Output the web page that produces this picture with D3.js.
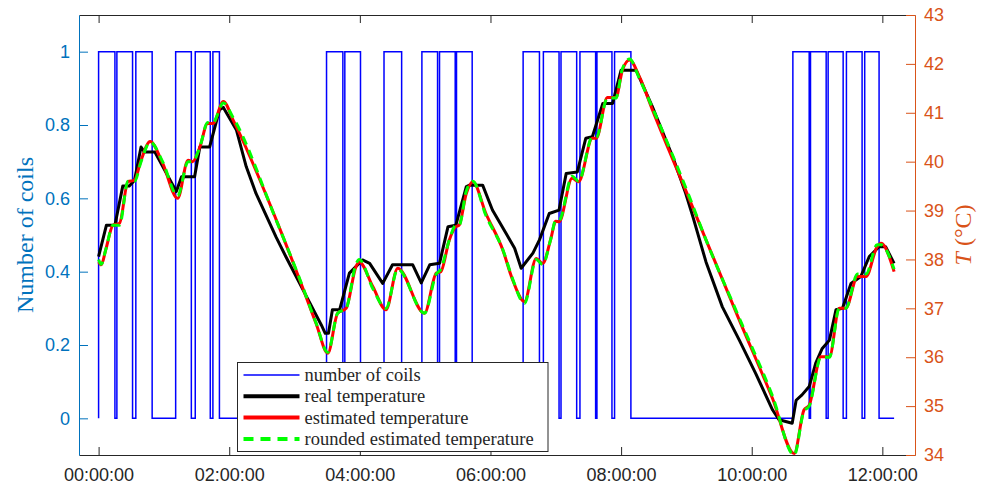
<!DOCTYPE html>
<html>
<head>
<meta charset="utf-8">
<script src="https://cdn.jsdelivr.net/npm/d3@7"></script>
<style>
  body { margin: 0; background: #fff; }
  svg { display: block; }
  .tick text { font-family: "Liberation Sans", Arial, sans-serif; font-size: 18px; }
  .lbl { font-family: "Liberation Serif", "DejaVu Serif", serif; }
</style>
</head>
<body>
<svg id="chart" width="984" height="489"></svg>
<script>
// time axis in hours since start
var xTicks = [0, 2, 4, 6, 8, 10, 12];
var yLeftTicks = [0, 0.2, 0.4, 0.6, 0.8, 1];
var yRightTicks = [34, 35, 36, 37, 38, 39, 40, 41, 42, 43];

// number of coils: switch times (h) and state after switching
var coilTimes = [0, 0, 0.25, 0.28, 0.52, 0.57, 0.82, 1.18, 1.42, 1.48, 1.71, 1.75, 1.85,
  3.49, 3.74, 3.77, 4.01, 4.37, 4.64, 4.95, 5.19, 5.22, 5.46, 5.48, 5.72,
  6.50, 6.75, 6.81, 7.05, 7.08, 7.32, 7.37, 7.61, 7.63, 7.86, 7.90, 8.15,
  10.63, 10.88, 10.90, 11.14, 11.17, 11.40, 11.45, 11.69, 11.73, 11.95, 12.18];
var coilStates = [0, 1, 0, 1, 0, 1, 0, 1, 0, 1, 0, 1, 0,
  1, 0, 1, 0, 1, 0, 1, 0, 1, 0, 1, 0,
  1, 0, 1, 0, 1, 0, 1, 0, 1, 0, 1, 0,
  1, 0, 1, 0, 1, 0, 1, 0, 1, 0, 0];

// real temperature
var realTimes = [0, 0.12, 0.25, 0.37, 0.47, 0.55, 0.65, 0.70, 0.86, 1.19, 1.27, 1.47, 1.55, 1.70, 1.85, 1.91,
  2.11, 2.26, 2.41, 2.72, 2.87, 3.18, 3.41, 3.47, 3.52, 3.58, 3.69, 3.84, 4.04, 4.15, 4.35, 4.50, 4.81,
  4.94, 5.07, 5.22, 5.35, 5.47, 5.63, 5.68, 5.88, 6.03, 6.24, 6.37, 6.47, 6.65, 6.75, 6.90, 7.05, 7.16,
  7.33, 7.46, 7.56, 7.72, 7.87, 8.00, 8.23, 8.48, 8.79, 8.99, 9.10, 9.30, 9.55, 9.81, 10.06, 10.32,
  10.42, 10.62, 10.68, 10.77, 10.88, 10.98, 11.08, 11.19, 11.29, 11.39, 11.52, 11.67, 11.80, 11.95, 12.05, 12.18];
var realTemp = [38.06, 38.70, 38.70, 39.50, 39.50, 39.62, 40.30, 40.20, 40.20, 39.39, 39.69, 39.69, 40.30, 40.30, 41.06, 41.11,
  40.65, 39.90, 39.35, 38.45, 38.05, 37.25, 36.66, 36.49, 36.49, 36.97, 36.97, 37.72, 37.99, 37.92, 37.51, 37.89, 37.89,
  37.52, 37.89, 37.92, 38.67, 38.70, 39.49, 39.52, 39.52, 39.01, 38.53, 38.23, 37.82, 38.13, 38.40, 38.94, 39.01, 39.76,
  39.79, 40.48, 40.51, 41.19, 41.19, 41.87, 41.87, 41.12, 40.10, 39.35, 38.87, 37.95, 37.03, 36.35, 35.67, 34.92,
  34.72, 34.65, 35.12, 35.23, 35.40, 35.88, 36.18, 36.35, 36.97, 37.00, 37.51, 37.65, 38.06, 38.26, 38.26, 37.92];

// estimated temperature
var estTimes = [0, 0.04, 0.11, 0.22, 0.32, 0.45, 0.55, 0.65, 0.79, 0.98, 1.21, 1.37, 1.44, 1.55, 1.67, 1.75, 1.91,
  2.06, 2.72, 3.08, 3.33, 3.51, 3.66, 3.79, 3.94, 3.99, 4.20, 4.40, 4.58, 4.99, 5.17, 5.24, 5.37, 5.47, 5.52,
  5.63, 5.73, 5.93, 6.19, 6.34, 6.52, 6.70, 6.80, 6.92, 7.00, 7.05, 7.25, 7.35, 7.56, 7.62, 7.79, 7.92, 8.02, 8.13,
  8.28, 8.48, 9.04, 9.30, 9.81, 10.32, 10.65, 10.80, 10.88, 11.06, 11.19, 11.34, 11.44, 11.62, 11.75, 11.92, 11.98, 12.18];
var estTemp = [37.95, 37.89, 38.20, 38.70, 38.74, 39.59, 39.62, 40.03, 40.41, 39.97, 39.25, 40.03, 40.00, 40.30, 40.78, 40.78, 41.23,
  40.85, 38.81, 37.58, 36.69, 36.08, 36.90, 37.00, 37.85, 37.95, 37.44, 36.97, 37.82, 36.90, 37.72, 37.75, 38.40, 38.67, 38.70,
  39.35, 39.59, 38.94, 38.19, 37.58, 37.14, 38.02, 37.92, 38.40, 38.78, 38.77, 39.66, 39.59, 40.48, 40.48, 41.31, 41.31, 41.87, 42.08,
  41.74, 41.06, 39.25, 38.40, 36.76, 35.15, 34.03, 34.92, 35.02, 36.01, 36.01, 37.00, 37.00, 37.65, 37.65, 38.26, 38.33, 37.75];

// rounded estimated temperature
var roundTemp = [38.0, 37.9, 38.2, 38.7, 38.7, 39.6, 39.6, 40.0, 40.4, 40.0, 39.3, 40.0, 40.0, 40.3, 40.8, 40.8, 41.2,
  40.9, 38.8, 37.6, 36.7, 36.1, 36.9, 37.0, 37.9, 38.0, 37.4, 37.0, 37.8, 36.9, 37.7, 37.8, 38.4, 38.7, 38.7,
  39.4, 39.6, 38.9, 38.2, 37.6, 37.1, 38.0, 37.9, 38.4, 38.8, 38.8, 39.7, 39.6, 40.5, 40.5, 41.3, 41.3, 41.9, 42.1,
  41.7, 41.1, 39.3, 38.4, 36.8, 35.2, 34.0, 34.9, 35.0, 36.0, 36.0, 37.0, 37.0, 37.7, 37.7, 38.3, 38.3, 37.8];

var legendNames = ["number of coils", "real temperature", "estimated temperature", "rounded estimated temperature"];

// Layout
var plot = { left: 79, right: 915, top: 15, bottom: 455 };
var blueAxis = "#0072BD", orangeAxis = "#D95319", dark = "#262626";

var svg = d3.select("#chart");

var xScale = d3.scaleLinear().domain([-0.3, 12.5]).range([plot.left, plot.right]);
var yLeft = d3.scaleLinear().domain([-0.1, 1.1]).range([plot.bottom, plot.top]);
var yRight = d3.scaleLinear().domain([34, 43]).range([plot.bottom, plot.top]);

function fmtTime(h) { return (h < 10 ? "0" : "") + h + ":00:00"; }

// axes (ticks point inwards, MATLAB style)
var xAxis = d3.axisBottom(xScale).tickValues(xTicks).tickFormat(fmtTime)
  .tickSizeInner(-8).tickSizeOuter(0).tickPadding(13);
var xAxisTop = d3.axisTop(xScale).tickValues(xTicks).tickFormat("")
  .tickSizeInner(-8).tickSizeOuter(0);
var yAxisL = d3.axisLeft(yLeft).tickValues(yLeftTicks).tickFormat(d3.format("~g"))
  .tickSizeInner(-9).tickSizeOuter(0).tickPadding(9);
var yAxisR = d3.axisRight(yRight).tickValues(yRightTicks).tickFormat(d3.format("d"))
  .tickSizeInner(-9).tickSizeOuter(0).tickPadding(9);

var gx = svg.append("g").attr("transform", "translate(0," + plot.bottom + ")").call(xAxis);
var gxt = svg.append("g").attr("transform", "translate(0," + plot.top + ")").call(xAxisTop);
var gyl = svg.append("g").attr("transform", "translate(" + plot.left + ",0)").call(yAxisL);
var gyr = svg.append("g").attr("transform", "translate(" + plot.right + ",0)").call(yAxisR);

gx.selectAll("path, line").attr("stroke", dark);
gx.selectAll("text").attr("fill", dark);
gxt.selectAll("path, line").attr("stroke", dark);
gyl.selectAll("path, line").attr("stroke", blueAxis);
gyl.selectAll("text").attr("fill", blueAxis);
gyr.selectAll("path, line").attr("stroke", orangeAxis);
gyr.selectAll("text").attr("fill", orangeAxis);

// axis labels
svg.append("text").attr("class", "lbl")
  .attr("transform", "translate(33," + ((plot.top + plot.bottom) / 2) + ") rotate(-90)")
  .attr("text-anchor", "middle").attr("font-size", 24).attr("fill", blueAxis)
  .text("Number of coils");
var tl = svg.append("text").attr("class", "lbl")
  .attr("transform", "translate(971," + ((plot.top + plot.bottom) / 2) + ") rotate(-90)")
  .attr("text-anchor", "middle").attr("font-size", 24).attr("fill", orangeAxis);
tl.append("tspan").attr("font-style", "italic").text("T");
tl.append("tspan").text(" (°C)");

// lines
var coilData = coilTimes.map(function(t, i) { return { t: t, v: coilStates[i] }; });
var realData = realTimes.map(function(t, i) { return { t: t, v: realTemp[i] }; });
var estData = estTimes.map(function(t, i) { return { t: t, v: estTemp[i] }; });
var roundData = estTimes.map(function(t, i) { return { t: t, v: roundTemp[i] }; });

var coilLine = d3.line().curve(d3.curveStepAfter)
  .x(function(d) { return xScale(d.t); })
  .y(function(d) { return yLeft(d.v); });
var tempLine = d3.line()
  .x(function(d) { return xScale(d.t); })
  .y(function(d) { return yRight(d.v); });
var smoothLine = d3.line().curve(d3.curveMonotoneX)
  .x(function(d) { return xScale(d.t); })
  .y(function(d) { return yRight(d.v); });

svg.append("path").datum(coilData).attr("d", coilLine)
  .attr("fill", "none").attr("stroke", "#0000FF").attr("stroke-width", 1.5);
svg.append("path").datum(realData).attr("d", tempLine)
  .attr("fill", "none").attr("stroke", "#000").attr("stroke-width", 3).attr("stroke-linejoin", "round");
svg.append("path").datum(estData).attr("d", smoothLine)
  .attr("fill", "none").attr("stroke", "#FF0000").attr("stroke-width", 3);
svg.append("path").datum(roundData).attr("d", smoothLine)
  .attr("fill", "none").attr("stroke", "#00FF00").attr("stroke-width", 3).attr("stroke-dasharray", "9,6");

// legend
var legendStyles = [
  { color: "#0000FF", width: 1.5, dash: null },
  { color: "#000", width: 4, dash: null },
  { color: "#FF0000", width: 4, dash: null },
  { color: "#00FF00", width: 4, dash: "10,7" }
];
var lg = svg.append("g").attr("transform", "translate(237.5,362.5)");
lg.append("rect").attr("width", 310.5).attr("height", 89)
  .attr("fill", "#fff").attr("stroke", dark).attr("stroke-width", 1);
var item = lg.selectAll(".item").data(legendNames).enter().append("g")
  .attr("class", "item")
  .attr("transform", function(d, i) { return "translate(0," + (12.5 + i * 21.3) + ")"; });
item.append("line").attr("x1", 6).attr("x2", 62)
  .attr("stroke", function(d, i) { return legendStyles[i].color; })
  .attr("stroke-width", function(d, i) { return legendStyles[i].width; })
  .attr("stroke-dasharray", function(d, i) { return legendStyles[i].dash; });
item.append("text").attr("class", "lbl").attr("x", 67).attr("dy", "0.33em")
  .attr("font-size", 18.5).attr("fill", dark)
  .text(function(d) { return d; });
</script>
</body>
</html>
